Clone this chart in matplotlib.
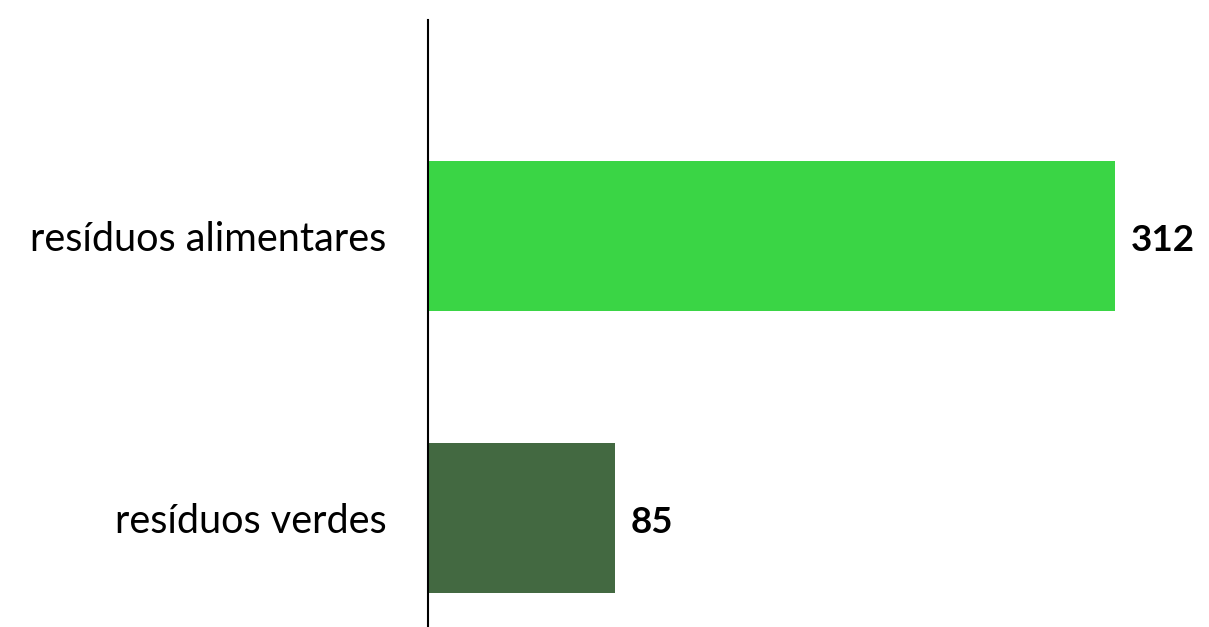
import matplotlib
matplotlib.use('Agg')
import matplotlib.pyplot as plt

categories = ['resíduos verdes', 'resíduos alimentares']
values = [85, 312]
colors = ['#436941', '#3AD545']

plt.rcParams['font.family'] = ['Lato', 'DejaVu Sans']

fig = plt.figure(figsize=(12.09, 6.27), dpi=100)
ax = fig.add_axes([428 / 1209, 0, 1 - 428 / 1209, 1 - 20 / 627])

pos = list(range(len(categories)))
bars = ax.barh(pos, values, height=0.532, color=colors)

ax.set_xlim(0, (1209 - 428) / (687 / 312))
ax.set_ylim(-0.3865, 1.766)

for b, v in zip(bars, values):
    ax.text(b.get_width() + 7, b.get_y() + b.get_height() / 2 - 0.015, str(v),
            va='center', ha='left', fontsize=26.5, fontweight='bold')

ax.set_yticks(pos)
ax.set_yticklabels(categories, fontsize=28.5)
ax.tick_params(axis='y', length=0, pad=30)
ax.set_xticks([])
for s in ['top', 'right', 'bottom']:
    ax.spines[s].set_visible(False)
ax.spines['left'].set_linewidth(1.5)

fig.savefig('out.png', dpi=100)
